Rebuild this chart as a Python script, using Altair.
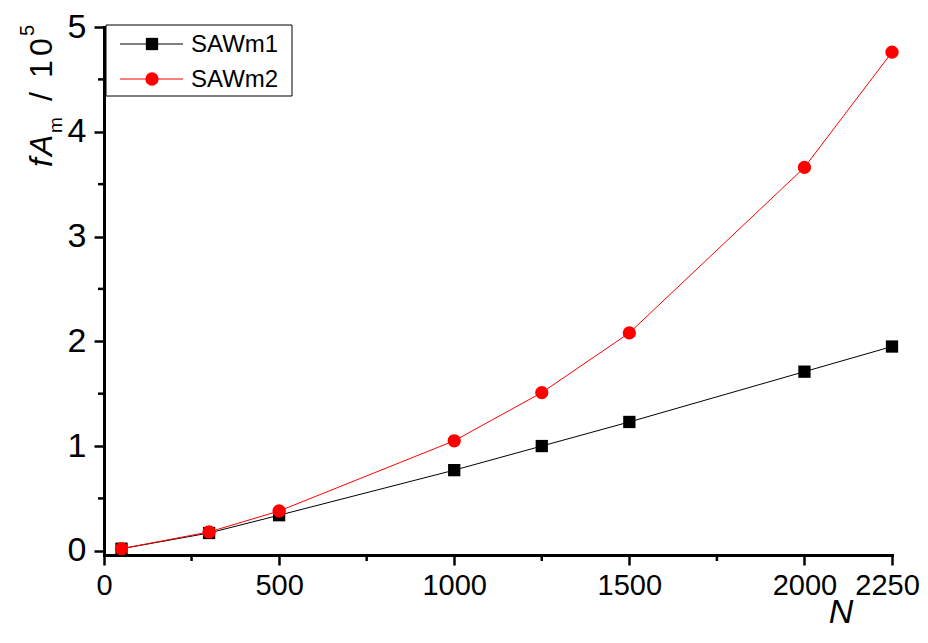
import altair as alt
import pandas as pd

# ---- data ----
N = [50, 300, 500, 1000, 1250, 1500, 2000, 2250]
sawm1 = [0.02, 0.17, 0.34, 0.77, 1.00, 1.23, 1.71, 1.95]
sawm2 = [0.02, 0.18, 0.38, 1.05, 1.51, 2.08, 3.66, 4.76]
series_names = ["SAWm1", "SAWm2"]
series_colors = ["#000000", "#ff0000"]
series_shapes = ["square", "circle"]
series_sizes = [151, 177]

x_major = [0, 500, 1000, 1500, 2000, 2250]
x_minor = [250, 750, 1250, 1750]
y_major = [0, 1, 2, 3, 4, 5]
y_minor = [0.5, 1.5, 2.5, 3.5, 4.5]

W, H = 788, 528
FONT = "Liberation Sans"

xscale = alt.Scale(domain=[0, 2250], nice=False, zero=False)
yscale = alt.Scale(domain=[-0.04, 5], nice=False, zero=False)

xaxis = alt.Axis(values=x_major, format="d", labelFontSize=29, labelFlush=False,
                 labelOverlap=False, tickSize=10, tickWidth=2.5, domainWidth=3,
                 domainColor="black", tickColor="black", labelColor="black",
                 labelPadding=6, grid=False, title=None, domainCap="square",
                 labelOffset={"condition": {"test": "datum.value === 2250", "value": -5}, "value": 0})
yaxis = alt.Axis(values=y_major, format="d", labelFontSize=34, labelOverlap=False,
                 tickSize=10, tickWidth=2.5, domainWidth=3, domainColor="black",
                 tickColor="black", labelColor="black", labelPadding=8, grid=False,
                 title=None, domainCap="square")

X = alt.X("N:Q", scale=xscale, axis=xaxis)
Y = alt.Y("v:Q", scale=yscale, axis=yaxis)


def series_layers(i, vals):
    df = pd.DataFrame({"N": N, "v": vals})
    base = alt.Chart(df)
    line = base.mark_line(strokeWidth=1, color=series_colors[i]).encode(x=X, y=Y)
    pts = base.mark_point(filled=True, opacity=1, shape=series_shapes[i],
                          size=series_sizes[i], color=series_colors[i]).encode(x=X, y=Y)
    return [line, pts]


# minor ticks drawn through the scales
xminor_rules = alt.Chart(pd.DataFrame({"N": x_minor})).mark_rule(
    strokeWidth=2.5, color="black").encode(
    x=X, y=alt.value(H), y2=alt.value(H + 6))
yminor_rules = alt.Chart(pd.DataFrame({"v": y_minor})).mark_rule(
    strokeWidth=2.5, color="black").encode(
    y=Y, x=alt.value(-6), x2=alt.value(0))

one = alt.Data(values=[{}])

# legend box
leg_box = alt.Chart(one).mark_rect(fill="white", stroke="black", strokeWidth=1).encode(
    x=alt.value(2), x2=alt.value(188), y=alt.value(-2), y2=alt.value(69))
leg_layers = [leg_box]
leg_y = [17, 52]
for i, name in enumerate(series_names):
    leg_layers.append(alt.Chart(one).mark_rule(strokeWidth=1, color=series_colors[i]).encode(
        x=alt.value(16), x2=alt.value(79), y=alt.value(leg_y[i])))
    leg_layers.append(alt.Chart(one).mark_point(filled=True, opacity=1, shape=series_shapes[i],
                                                size=series_sizes[i], color=series_colors[i]).encode(
        x=alt.value(48), y=alt.value(leg_y[i])))
    leg_layers.append(alt.Chart(one).mark_text(align="left", baseline="middle", fontSize=24,
                                               color="black").encode(
        x=alt.value(87), y=alt.value(leg_y[i] + 1), text=alt.value(name)))


def vtext(txt, x, y, size, italic=False):
    kw = dict(angle=270, align="left", baseline="alphabetic", fontSize=size, color="black")
    if italic:
        kw["fontStyle"] = "italic"
    return alt.Chart(one).mark_text(**kw).encode(
        x=alt.value(x), y=alt.value(y), text=alt.value(txt))


ytitle = [
    vtext("f", -52, 140, 32, True),
    vtext("A", -52, 129, 32, True),
    vtext("m", -42, 106, 19),
    vtext("/", -52, 74, 32),
    vtext("1", -52, 51, 32),
    vtext("0", -52, 29, 32),
    vtext("5", -70, 9, 20),
]
xtitle = alt.Chart(one).mark_text(align="center", baseline="alphabetic", fontSize=34,
                                  fontStyle="italic", color="black").encode(
    x=alt.value(737), y=alt.value(596), text=alt.value("N"))

layers = []
layers += series_layers(0, sawm1)
layers += series_layers(1, sawm2)
layers += [xminor_rules, yminor_rules]
layers += leg_layers
layers += ytitle
layers += [xtitle]

chart = alt.layer(*layers).properties(
    width=W, height=H,
    autosize=alt.AutoSizeParams(type="none"),
    padding={"left": 96, "top": 19, "right": 28, "bottom": 75},
).configure(font=FONT).configure_view(stroke=None)

chart.save("out.html", embed_options={"renderer": "svg", "actions": False})
